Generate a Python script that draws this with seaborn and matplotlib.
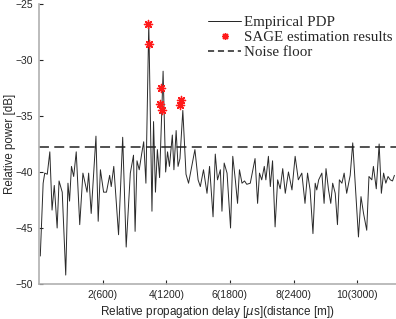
import matplotlib
matplotlib.use("Agg")
import matplotlib.pyplot as plt
from matplotlib.lines import Line2D
import numpy as np
import pandas as pd
import seaborn as sns

# empirical power delay profile
delay_us = [
    0.04, 0.13, 0.18, 0.26, 0.34, 0.41, 0.48, 0.57, 0.63, 0.73,
    0.84, 0.91, 0.96, 1.02, 1.09, 1.17, 1.28, 1.38, 1.51, 1.56,
    1.64, 1.79, 1.86, 1.93, 2.03, 2.12, 2.22, 2.27, 2.35, 2.50,
    2.63, 2.74, 2.87, 2.97, 3.02, 3.08, 3.15, 3.22, 3.29, 3.36,
    3.45, 3.55, 3.60, 3.66, 3.72, 3.79, 3.90, 3.98, 4.04, 4.10,
    4.19, 4.24, 4.31, 4.37, 4.43, 4.52, 4.62, 4.70, 4.80, 4.90,
    5.00, 5.07, 5.17, 5.28, 5.36, 5.47, 5.54, 5.61, 5.70, 5.75,
    5.82, 5.91, 6.02, 6.09, 6.17, 6.24, 6.30, 6.38, 6.46, 6.53,
    6.64, 6.72, 6.79, 6.87, 6.93, 7.00, 7.08, 7.13, 7.21, 7.27,
    7.34, 7.42, 7.50, 7.58, 7.66, 7.74, 7.84, 7.95, 8.05, 8.15,
    8.26, 8.36, 8.44, 8.52, 8.61, 8.68, 8.73, 8.79, 8.89, 8.96,
    9.02, 9.10, 9.17, 9.23, 9.31, 9.38, 9.44, 9.52, 9.59, 9.67,
    9.78, 9.86, 10.04, 10.12, 10.20, 10.30, 10.37, 10.46, 10.51, 10.60,
    10.69, 10.76, 10.83, 10.90, 10.97, 11.04, 11.11, 11.17,
]
power_db = [
    -47.5, -41.0, -40.1, -40.2, -38.2, -43.4, -41.2, -45.0, -40.8, -41.8,
    -49.2, -41.0, -42.6, -39.5, -40.4, -38.2, -44.7, -40.1, -41.8, -40.1,
    -43.7, -36.8, -44.4, -39.8, -41.8, -41.8, -40.3, -41.3, -39.5, -45.6,
    -36.9, -46.7, -40.1, -38.5, -45.3, -39.0, -39.8, -38.5, -37.3, -41.0,
    -26.7, -43.5, -35.5, -41.8, -38.0, -40.5, -31.0, -40.0, -38.2, -39.5,
    -36.7, -39.8, -36.3, -39.5, -38.8, -34.5, -40.2, -41.0, -39.5, -38.0,
    -40.7, -41.3, -39.8, -41.9, -39.5, -44.0, -38.4, -40.7, -39.8, -43.5,
    -39.2, -40.1, -45.0, -38.6, -40.7, -42.8, -39.8, -41.0, -40.8, -41.1,
    -41.0, -39.8, -38.8, -42.8, -40.1, -40.7, -39.5, -40.7, -38.6, -41.3,
    -39.0, -44.9, -40.7, -41.5, -39.7, -41.9, -40.0, -41.6, -38.6, -40.7,
    -40.1, -42.8, -40.1, -41.6, -45.5, -41.0, -41.6, -40.7, -40.1, -42.8,
    -39.7, -41.6, -42.8, -41.0, -41.9, -44.7, -40.7, -41.0, -40.1, -41.9,
    -40.3, -37.4, -45.8, -42.2, -43.7, -45.2, -40.4, -40.7, -39.5, -41.5,
    -37.5, -41.9, -40.1, -41.0, -40.4, -40.7, -40.8, -40.3,
]

# SAGE path estimates
sage_delay_us = [3.41, 3.46, 3.82, 3.79, 3.85, 4.46, 4.42]
sage_power_db = [-26.8, -28.6, -32.5, -33.9, -34.5, -33.6, -34.0]

noise_floor_db = -37.8

xticks = [2, 4, 6, 8, 10]
xtick_labels = ["2(600)", "4(1200)", "6(1800)", "8(2400)", "10(3000)"]
yticks = [-50, -45, -40, -35, -30, -25]

pdp = pd.DataFrame({"delay": delay_us, "power": power_db})
sage = pd.DataFrame({"delay": sage_delay_us, "power": sage_power_db})

sns.set_theme(style="white")
plt.rcParams["font.family"] = ["Liberation Sans", "DejaVu Sans"]

fig = plt.figure(figsize=(3.96, 3.19), dpi=100)
ax = fig.add_axes([0.0985, 0.1097, 0.9015, 0.8778])

sns.lineplot(data=pdp, x="delay", y="power", ax=ax, color="#2a2a2a",
             linewidth=0.7, estimator=None, sort=False)
ax.axhline(noise_floor_db, color="#222222", linewidth=1.1, dashes=(6.5, 3.5))
sns.scatterplot(data=sage, x="delay", y="power", ax=ax, marker=(8, 2, 0),
                s=34, color="#ff1a1a", edgecolor="#ff1a1a", linewidth=1.0,
                zorder=5)

ax.set_xlim(0, 11.22)
ax.set_ylim(-50, -25)
ax.set_xticks(xticks)
ax.set_xticklabels(xtick_labels)
ax.set_yticks(yticks)
ax.tick_params(axis="both", direction="in", length=3, width=0.8,
               color="#262626", labelsize=7.5, labelcolor="#262626",
               bottom=True, left=True, pad=4)

for side in ["top", "right"]:
    ax.spines[side].set_visible(False)
for side in ["left", "bottom"]:
    ax.spines[side].set_color("#b0b0b0")
    ax.spines[side].set_linewidth(1.2)

ax.set_xlabel(r"Relative propagation delay [$\mu$s](distance [m])",
              fontsize=8.5, color="#262626", labelpad=3)
ax.set_ylabel("Relative power [dB]", fontsize=8.3, color="#262626")
ax.yaxis.set_label_coords(-0.064, 0.5)

handles = [
    Line2D([], [], color="#222222", linewidth=0.7),
    Line2D([], [], linestyle="none", marker=(8, 2, 0), markersize=5,
           markeredgecolor="#ff1a1a", markeredgewidth=1.0, color="#ff1a1a"),
    Line2D([], [], color="#222222", linewidth=1.1, dashes=(4, 2.5)),
]
labels = ["Empirical PDP", "SAGE estimation results", "Noise floor"]
ax.legend(handles, labels, loc="upper right", frameon=False,
          prop={"family": "Liberation Serif", "size": 10.8},
          handlelength=2.2, handletextpad=0.2, labelspacing=0.1,
          borderaxespad=0.1, bbox_to_anchor=(1.012, 0.985))

fig.savefig("out.png", dpi=100)
